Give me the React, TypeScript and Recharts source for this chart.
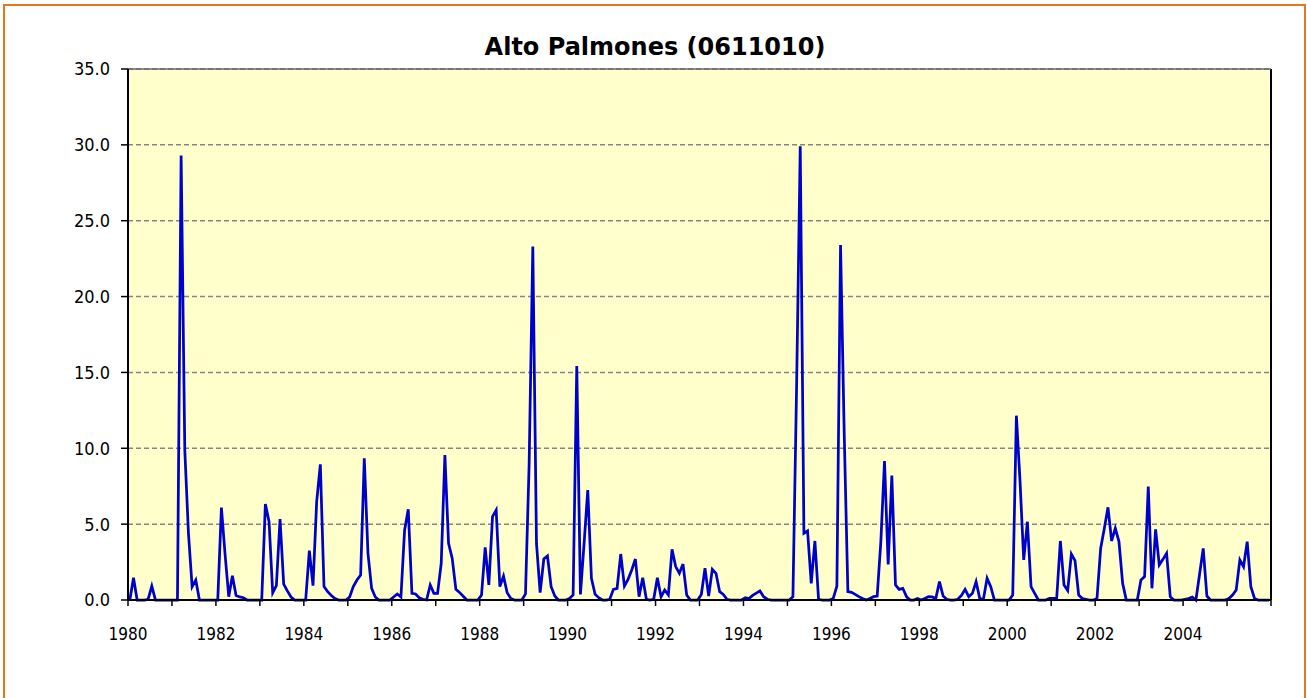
import React from "react";
import {
  LineChart,
  Line,
  XAxis,
  YAxis,
  CartesianGrid,
  ReferenceLine,
} from "recharts";

const START_YEAR = 1980;

// monthly mean flow, Jan 1980 .. Dec 2005 (one row per year)
const monthlyFlow = [
  0, 1.47, 0, 0, 0, 0.05, 0.92, 0, 0, 0, 0, 0,
  0, 0, 29.3, 9.9, 4.4, 0.88, 1.32, 0, 0, 0, 0, 0,
  0, 6.09, 3.0, 0.22, 1.6, 0.3, 0.2, 0.15, 0, 0, 0, 0,
  0, 6.33, 5.16, 0.48, 0.95, 5.34, 1.05, 0.6, 0.2, 0, 0, 0,
  0, 3.25, 0.95, 6.48, 8.94, 0.88, 0.55, 0.3, 0.1, 0, 0, 0,
  0.2, 0.88, 1.32, 1.65, 9.34, 3.08, 0.77, 0.2, 0, 0, 0, 0,
  0.2, 0.4, 0.2, 4.6, 5.98, 0.44, 0.4, 0.15, 0.05, 0, 0.99, 0.44,
  0.44, 2.42, 9.56, 3.73, 2.74, 0.7, 0.5, 0.25, 0, 0, 0, 0,
  0.33, 3.47, 0.99, 5.5, 5.93, 0.88, 1.58, 0.48, 0.1, 0, 0, 0,
  0.4, 9.0, 23.3, 3.73, 0.48, 2.7, 2.9, 0.88, 0.26, 0, 0, 0,
  0.1, 0.33, 15.43, 0.37, 3.73, 7.25, 1.43, 0.37, 0.15, 0, 0, 0.05,
  0.7, 0.77, 3.03, 0.92, 1.36, 1.98, 2.7, 0.22, 1.47, 0.05, 0, 0.05,
  1.47, 0.22, 0.66, 0.33, 3.34, 2.2, 1.76, 2.37, 0.33, 0, 0, 0,
  0.37, 2.09, 0.26, 2.02, 1.76, 0.55, 0.37, 0.05, 0, 0, 0, 0,
  0.15, 0.1, 0.3, 0.45, 0.6, 0.22, 0.05, 0, 0, 0, 0, 0,
  0, 0.22, 14.0, 29.9, 4.4, 4.55, 1.1, 3.89, 0.05, 0, 0, 0,
  0.1, 0.92, 23.4, 11.0, 0.55, 0.5, 0.37, 0.22, 0.1, 0, 0.1, 0.22,
  0.26, 3.85, 9.16, 2.35, 8.2, 0.99, 0.7, 0.77, 0.22, 0, 0, 0.1,
  0, 0.1, 0.22, 0.2, 0.1, 1.21, 0.26, 0.05, 0, 0, 0.05, 0.3,
  0.7, 0.22, 0.44, 1.21, 0.1, 0.05, 1.43, 0.88, 0, 0, 0, 0,
  0, 0.33, 12.15, 7.8, 2.64, 5.16, 0.88, 0.44, 0, 0, 0, 0.1,
  0.1, 0.1, 3.89, 0.99, 0.62, 3.03, 2.59, 0.33, 0.1, 0.05, 0, 0,
  0.1, 3.4, 4.72, 6.11, 3.89, 4.72, 3.85, 1.1, 0, 0, 0, 0,
  1.32, 1.54, 7.47, 0.77, 4.66, 2.31, 2.68, 3.08, 0.22, 0, 0, 0,
  0.05, 0.1, 0.2, 0, 1.7, 3.4, 0.26, 0, 0, 0, 0, 0,
  0.1, 0.33, 0.66, 2.64, 2.2, 3.85, 0.88, 0.1, 0, 0, 0, 0,
];

const yTicks = [0, 5, 10, 15, 20, 25, 30, 35];
const yearTicks = Array.from({ length: 27 }, (_, k) => k * 12); // month offsets of Jan each year
const labelledYears = [1980, 1982, 1984, 1986, 1988, 1990, 1992, 1994, 1996, 1998, 2000, 2002, 2004];

const TOTAL_MONTHS = monthlyFlow.length;
const tickFont = "'DejaVu Sans Condensed', 'Liberation Sans', sans-serif";

export default function App() {
  // points sit in the middle of each month slot, like Excel's "between tick marks"
  const data = monthlyFlow.map((v, i) => ({ m: i + 0.5, flow: v }));

  const yearLabel = (v: number) => {
    const year = START_YEAR + v / 12;
    return labelledYears.includes(year) ? String(year) : "";
  };

  return (
    <div style={{ position: "absolute", left: 0, top: 0, width: 1307, height: 698, background: "#fff", overflow: "hidden" }}>
      <div
        style={{
          position: "absolute",
          left: 3,
          top: 4,
          width: 1303,
          height: 700,
          boxSizing: "border-box",
          border: "2px solid #E5771E",
        }}
      />
      <div
        style={{
          position: "absolute",
          left: 0,
          width: 1310,
          top: 35,
          textAlign: "center",
          fontFamily: "'DejaVu Sans', sans-serif",
          fontWeight: "bold",
          fontSize: 24,
          lineHeight: "24px",
          color: "#000",
        }}
      >
        Alto Palmones (0611010)
      </div>
      <div style={{ position: "absolute", left: 0, top: 0 }}>
        <LineChart
          width={1307}
          height={698}
          data={data}
          margin={{ top: 69, right: 36, bottom: 0, left: 0 }}
        >
          <CartesianGrid
            vertical={false}
            fill="#FFFFCC"
            stroke="#858585"
            strokeWidth={1.5}
            strokeDasharray="5 3"
          />
          <XAxis
            type="number"
            dataKey="m"
            domain={[0, TOTAL_MONTHS]}
            ticks={yearTicks}
            interval={0}
            tickFormatter={yearLabel}
            height={98}
            tickSize={6}
            tickMargin={22}
            axisLine={{ stroke: "#000", strokeWidth: 2 }}
            tickLine={{ stroke: "#000", strokeWidth: 1.5 }}
            tick={{ fill: "#000", fontSize: 17, fontFamily: tickFont }}
          />
          <YAxis
            domain={[0, 35]}
            ticks={yTicks}
            interval={0}
            width={128}
            tickSize={7}
            tickMargin={11}
            tickFormatter={(v: number) => v.toFixed(1)}
            axisLine={{ stroke: "#000", strokeWidth: 2 }}
            tickLine={{ stroke: "#000", strokeWidth: 1.5 }}
            tick={{ fill: "#000", fontSize: 18, fontFamily: tickFont }}
          />
          <ReferenceLine x={TOTAL_MONTHS} stroke="#000" strokeWidth={2} />
          <ReferenceLine y={35} stroke="#666" strokeWidth={1.5} />
          <Line
            type="linear"
            dataKey="flow"
            stroke="#0000CC"
            strokeWidth={2.75}
            dot={false}
            isAnimationActive={false}
          />
        </LineChart>
      </div>
    </div>
  );
}
